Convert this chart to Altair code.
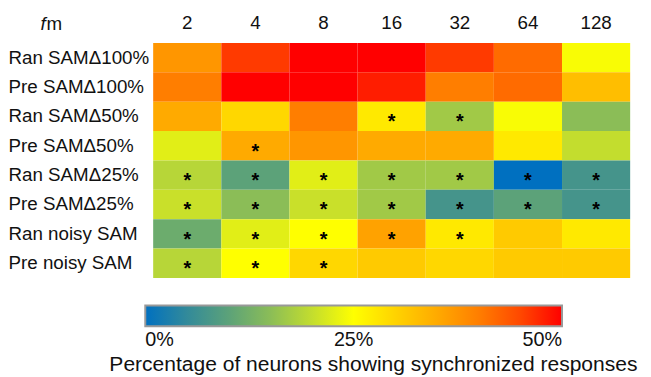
import altair as alt
import pandas as pd

rows = ["Ran SAMΔ100%", "Pre SAMΔ100%", "Ran SAMΔ50%", "Pre SAMΔ50%",
        "Ran SAMΔ25%", "Pre SAMΔ25%", "Ran noisy SAM", "Pre noisy SAM"]
cols = ["2", "4", "8", "16", "32", "64", "128"]

values = [
    [37.5, 46.0, 50.0, 50.0, 46.0, 42.0, 24.5],
    [40.0, 50.0, 50.0, 48.0, 40.0, 42.0, 32.5],
    [35.0, 29.5, 40.0, 27.5, 17.0, 24.5, 15.0],
    [22.5, 35.0, 37.5, 35.0, 35.0, 27.5, 20.0],
    [19.0, 10.0, 22.5, 17.0, 17.0, 0.0, 7.0],
    [20.5, 15.0, 20.5, 17.0, 7.0, 10.0, 7.0],
    [12.0, 22.5, 25.0, 36.0, 27.5, 31.0, 27.5],
    [19.0, 25.0, 29.5, 31.0, 29.5, 31.0, 31.0],
]

stars = [
    [0, 0, 0, 0, 0, 0, 0],
    [0, 0, 0, 0, 0, 0, 0],
    [0, 0, 0, 1, 1, 0, 0],
    [0, 1, 0, 0, 0, 0, 0],
    [1, 1, 1, 1, 1, 1, 1],
    [1, 1, 1, 1, 1, 1, 1],
    [1, 1, 1, 1, 1, 0, 0],
    [1, 1, 1, 0, 0, 0, 0],
]

color_stops = [0, 6.25, 12.5, 18.75, 25, 31.25, 37.5, 43.75, 50]
color_range = ["#0070c0", "#3f9090", "#70ae6a", "#b4d43a", "#ffff00",
               "#ffc800", "#ff9600", "#ff5a00", "#ff0000"]
legend_ticks = [0, 25, 50]
colorbar_title = "Percentage of neurons showing synchronized responses"

records = []
for i, r in enumerate(rows):
    for j, c in enumerate(cols):
        records.append({"row": r, "fm": c, "value": values[i][j],
                        "star": "*" if stars[i][j] else ""})
df = pd.DataFrame(records)

FONT = "Liberation Sans"
FS = 19

base = alt.Chart(df).encode(
    x=alt.X("fm:N", sort=cols, title=None,
            axis=alt.Axis(orient="top", labelAngle=0, labelFontSize=FS,
                          labelPadding=11, domain=False, ticks=False,
                          labelColor="#111", labelFont=FONT)),
    y=alt.Y("row:N", sort=rows, title=None,
            axis=alt.Axis(labelFontSize=FS, labelAlign="left", labelPadding=147,
                          domain=False, ticks=False, labelColor="#111",
                          labelFont=FONT, labelLimit=200)),
)

heat = base.mark_rect().encode(
    color=alt.Color("value:Q",
                    scale=alt.Scale(domain=color_stops, range=color_range,
                                    interpolate="rgb"),
                    legend=alt.Legend(orient="none", legendX=-8, legendY=266,
                                      direction="horizontal", gradientLength=422,
                                      gradientThickness=21, title=None,
                                      values=legend_ticks,
                                      labelExpr="datum.value + '%'",
                                      labelFontSize=20, labelFont=FONT,
                                      labelColor="#111", labelOffset=4,
                                      gradientStrokeColor="#999999",
                                      gradientStrokeWidth=2, padding=0))
)

txt = base.mark_text(fontSize=20, color="black", baseline="middle", dy=6,
                     font=FONT, fontWeight="bold").encode(text="star:N")

f_label = alt.Chart(pd.DataFrame({"t": ["f"]})).mark_text(
    fontSize=FS, fontStyle="italic", font=FONT, align="left", baseline="middle",
    color="#111").encode(x=alt.value(-114), y=alt.value(-19), text="t:N")
m_label = alt.Chart(pd.DataFrame({"t": ["m"]})).mark_text(
    fontSize=FS, font=FONT, align="left", baseline="middle",
    color="#111").encode(x=alt.value(-108), y=alt.value(-19), text="t:N")
title_label = alt.Chart(pd.DataFrame({"t": [colorbar_title]})).mark_text(
    fontSize=21.3, font=FONT, align="center", baseline="alphabetic",
    color="#111").encode(x=alt.value(223), y=alt.value(332), text="t:N")

chart = alt.layer(heat, txt, f_label, m_label, title_label).properties(
    width=483, height=238,
    autosize=alt.AutoSizeParams(type="none"),
    padding={"left": 147, "top": 33, "right": 13, "bottom": 98},
).configure_view(stroke=None)

chart.save("out.html", embed_options={"renderer": "svg", "actions": False})
